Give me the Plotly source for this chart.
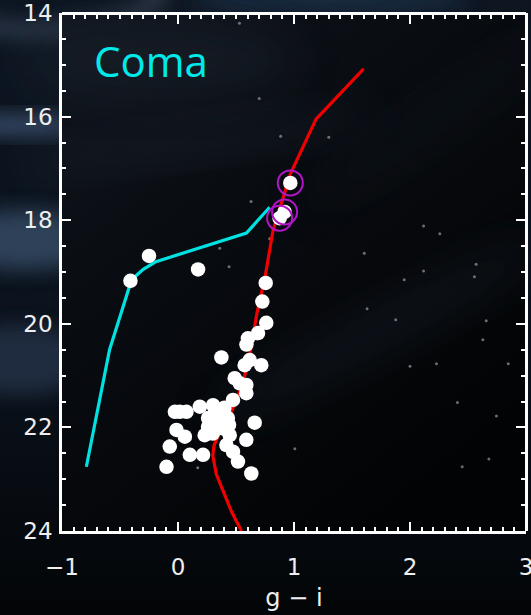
import base64
import plotly.graph_objects as go

# --- isochrone (red) -------------------------------------------------------
iso_gi = [1.60, 1.19, 0.97, 0.82, 0.75, 0.68, 0.62, 0.56, 0.47, 0.37, 0.31, 0.30, 0.33, 0.39, 0.46, 0.547]
iso_mag = [15.08, 16.05, 17.10, 18.19, 19.10, 19.80, 20.57, 21.15, 21.65, 22.05, 22.35, 22.55, 22.90, 23.25, 23.62, 24.0]

# --- horizontal branch track (cyan) ---------------------------------------
hb_gi = [-0.79, -0.59, -0.40, -0.30, -0.19, 0.59, 0.79]
hb_mag = [22.76, 20.50, 19.15, 18.95, 18.80, 18.25, 17.75]

# --- cluster member stars --------------------------------------------------
member_gi = [-0.25, -0.41, 0.173,
             0.756, 0.727, 0.761, 0.69, 0.603, 0.59,
             0.374, 0.618, 0.718, 0.575, 0.489, 0.589,
             0.532, 0.589, 0.474, 0.302, 0.188, 0.015, -0.027, 0.073,
             0.36, 0.259, 0.43, 0.259, 0.388, 0.661,
             -0.013, 0.059, 0.23, 0.446, 0.589,
             -0.071, 0.417, 0.102, 0.216, 0.474, 0.517, -0.099, 0.632,
             0.32, 0.33, 0.30, 0.40, 0.44]
member_mag = [18.69, 19.17, 18.95,
              19.21, 19.57, 19.98, 20.18, 20.28, 20.40,
              20.65, 20.70, 20.80, 20.80, 21.05, 21.18,
              21.15, 21.34, 21.47, 21.57, 21.60, 21.70, 21.70, 21.70,
              21.79, 21.82, 21.82, 21.99, 22.02, 21.91,
              22.05, 22.18, 22.15, 22.15, 22.24,
              22.37, 22.34, 22.53, 22.53, 22.47, 22.66, 22.76, 22.89,
              21.70, 21.92, 22.12, 21.62, 21.95]

# --- flagged members (circled) --------------------------------------------
flag_gi = [0.968, 0.919, 0.876]
flag_mag = [17.28, 17.84, 17.96]

# --- faint field sources ---------------------------------------------------
field_gi = [0.53, 0.70, 0.885, 1.30, 0.63, 0.79, 0.36, 0.44, 1.606, 2.117, 2.257,
            2.117, 1.95, 2.57, 2.555, 1.63, 1.877, 2.657, 2.628, 2.0, 2.228, 2.847,
            2.409, 2.745, 1.007, 2.68, 2.45, 0.17]
field_mag = [14.20, 15.65, 16.38, 16.40, 17.64, 18.36, 18.54, 18.90, 18.64, 18.11, 18.26,
             18.98, 19.15, 18.85, 19.09, 19.71, 19.92, 19.94, 20.31, 20.82, 20.77, 20.77,
             21.52, 21.78, 22.41, 22.61, 22.76, 22.78]

x_ticks = [-1, 0, 1, 2, 3]
x_ticktext = ["\u22121", "0", "1", "2", "3"]
y_ticks = [14, 16, 18, 20, 22, 24]
x_range = [-1, 3]
y_range = [24, 14]

W, H = 531, 615
ML, MR, MT, MB = 62, 5, 13, 84
PW, PH = W - ML - MR, H - MT - MB

# dark sky backdrop with soft blue haze
bg_svg = f"""<svg xmlns='http://www.w3.org/2000/svg' width='{W}' height='{H}' viewBox='0 0 {W} {H}'>
<defs>
<filter id='b1' x='-50%' y='-50%' width='200%' height='200%'><feGaussianBlur stdDeviation='10'/></filter>
<filter id='b2' x='-50%' y='-50%' width='200%' height='200%'><feGaussianBlur stdDeviation='22'/></filter>
<linearGradient id='pg' x1='0' y1='0' x2='0.7' y2='1'>
<stop offset='0' stop-color='#11171f'/>
<stop offset='0.45' stop-color='#080b10'/>
<stop offset='1' stop-color='#020304'/>
</linearGradient>
<linearGradient id='og' x1='0' y1='0' x2='0' y2='1'>
<stop offset='0' stop-color='#0e1622'/>
<stop offset='0.6' stop-color='#0b121c'/>
<stop offset='1' stop-color='#030507'/>
</linearGradient>
</defs>
<rect width='{W}' height='{H}' fill='url(#og)'/>
<ellipse cx='40' cy='-10' rx='120' ry='40' fill='none' stroke='#5a6a82' stroke-width='10' opacity='0.7' filter='url(#b1)'/>
<ellipse cx='20' cy='125' rx='90' ry='10' fill='#3c5272' opacity='0.9' filter='url(#b1)'/>
<ellipse cx='25' cy='240' rx='80' ry='30' fill='#33465f' opacity='0.9' filter='url(#b1)'/>
<ellipse cx='20' cy='360' rx='70' ry='35' fill='#26364c' opacity='0.75' filter='url(#b1)'/>
<ellipse cx='330' cy='0' rx='140' ry='14' fill='#1f3048' opacity='0.8' filter='url(#b1)'/>
<rect x='{ML}' y='{MT}' width='{PW}' height='{PH}' fill='url(#pg)'/>
<ellipse cx='200' cy='140' rx='180' ry='16' fill='#2a3442' opacity='0.3' filter='url(#b2)' transform='rotate(-8 200 140)'/>
<ellipse cx='160' cy='60' rx='140' ry='40' fill='#1e2632' opacity='0.4' filter='url(#b2)'/>
<ellipse cx='380' cy='330' rx='190' ry='22' fill='#1c2633' opacity='0.4' filter='url(#b2)' transform='rotate(-28 380 330)'/>
<ellipse cx='430' cy='120' rx='150' ry='20' fill='#151c26' opacity='0.35' filter='url(#b2)' transform='rotate(-35 430 120)'/>
</svg>"""
bg_uri = "data:image/svg+xml;base64," + base64.b64encode(bg_svg.encode()).decode()

fig = go.Figure()

fig.add_trace(go.Scatter(
    x=field_gi, y=field_mag, mode="markers",
    marker=dict(size=3, color="rgba(190,195,200,0.55)", line=dict(width=0)),
    hoverinfo="skip", showlegend=False))

fig.add_trace(go.Scatter(
    x=iso_gi, y=iso_mag, mode="lines",
    line=dict(color="#f00000", width=3.2),
    hoverinfo="skip", showlegend=False))

fig.add_trace(go.Scatter(
    x=hb_gi, y=hb_mag, mode="lines",
    line=dict(color="#00e2e2", width=3.2),
    hoverinfo="skip", showlegend=False))

fig.add_trace(go.Scatter(
    x=member_gi + flag_gi, y=member_mag + flag_mag, mode="markers",
    marker=dict(size=14.5, color="white", line=dict(width=0)),
    hoverinfo="skip", showlegend=False))

fig.add_trace(go.Scatter(
    x=flag_gi, y=flag_mag, mode="markers",
    marker=dict(size=25, color="rgba(0,0,0,0)", line=dict(width=2, color="#b214c8")),
    hoverinfo="skip", showlegend=False))

# empty trace so the mirrored top/right axes get drawn
fig.add_trace(go.Scatter(x=[], y=[], xaxis="x2", yaxis="y2", showlegend=False, hoverinfo="skip"))

fig.add_annotation(
    x=-0.23, y=14.92, xref="x", yref="y", text="Coma", showarrow=False,
    font=dict(family="Open Sans", size=42, color="#00eaea"))

tick_style = dict(
    ticks="inside", ticklen=9, tickwidth=2, tickcolor="white",
    showgrid=False, zeroline=False, automargin=False,
)
line_style = dict(showline=True, linecolor="white", linewidth=2.5)
label_font = dict(family="DejaVu Sans", size=23, color="#eeeeee")

fig.update_layout(
    xaxis=dict(
        range=x_range, tickvals=x_ticks, ticktext=x_ticktext,
        minor=dict(ticks="inside", ticklen=4, tickwidth=1.5, tickcolor="white", dtick=0.1),
        title=dict(text="g \u2212 i", font=dict(family="DejaVu Sans", size=24, color="#eeeeee"), standoff=10),
        ticklabelstandoff=14, ticklabeloverflow="allow", tickfont=label_font,
        **tick_style, **line_style),
    yaxis=dict(
        range=y_range, tickvals=y_ticks,
        minor=dict(ticks="inside", ticklen=4, tickwidth=1.5, tickcolor="white", dtick=0.5),
        ticklabelstandoff=2, tickfont=label_font,
        **tick_style, **line_style),
    xaxis2=dict(
        range=x_range, tickvals=x_ticks, overlaying="x", side="top",
        anchor="free", position=1,
        showticklabels=False,
        minor=dict(ticks="inside", ticklen=4, tickwidth=1.5, tickcolor="white", dtick=0.1),
        **tick_style, **line_style),
    yaxis2=dict(
        range=y_range, tickvals=y_ticks, overlaying="y", side="right",
        anchor="free", position=1,
        showticklabels=False,
        minor=dict(ticks="inside", ticklen=4, tickwidth=1.5, tickcolor="white", dtick=0.5),
        **tick_style, **line_style),
)

fig.add_layout_image(dict(
    source=bg_uri, xref="paper", yref="paper",
    x=-ML / PW, y=1 + MT / PH, sizex=W / PW, sizey=H / PH,
    xanchor="left", yanchor="top", sizing="stretch", layer="below"))

fig.update_layout(
    width=W, height=H,
    margin=dict(l=ML, r=MR, t=MT, b=MB, autoexpand=False),
    paper_bgcolor="#070b11", plot_bgcolor="rgba(0,0,0,0)",
    showlegend=False,
)

fig.write_html("out.html")
